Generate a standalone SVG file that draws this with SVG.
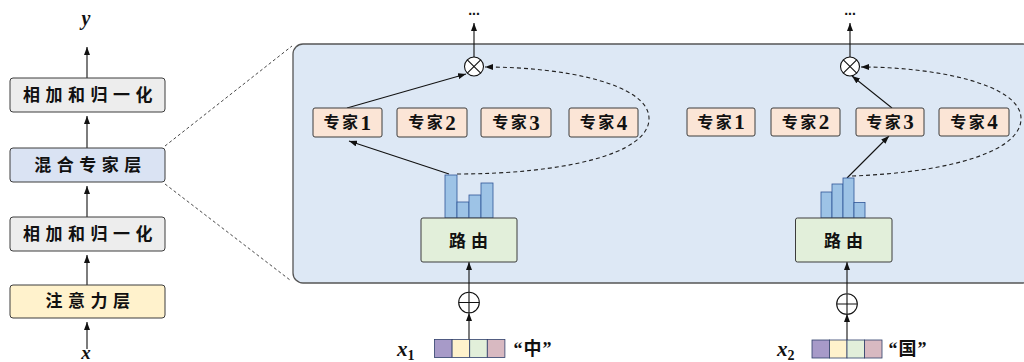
<svg xmlns="http://www.w3.org/2000/svg" width="1024" height="362" viewBox="0 0 1024 362">
<defs>
<marker id="ah" viewBox="0 0 8 6" refX="8" refY="3" markerWidth="8" markerHeight="6" markerUnits="userSpaceOnUse" orient="auto">
<path d="M0,0 L8,3 L0,6 z" fill="#111"/>
</marker>
<style>
.cn{font-family:"Liberation Serif","Noto Sans CJK SC",serif;font-weight:bold;fill:#111;text-anchor:middle;dominant-baseline:central}
.lc{font-size:17px;letter-spacing:5.5px}
.ex{font-size:16px;letter-spacing:2.5px}
.dg{font-size:21px}
.box{stroke:#3c3c3c;stroke-width:1}
.gray{fill:#ededed}
.moe{fill:#dae3f3}
.att{fill:#fff2cc}
.exp{fill:#fbe5d6}
.rt{fill:#e2efda}
.bar{fill:#9dc3e6;stroke:#2f5597;stroke-width:0.8}
.ln{stroke:#111;stroke-width:1.1;fill:none}
.dl{stroke:#222;stroke-width:1.1;fill:none;stroke-dasharray:4 3}
.zm{stroke:#333;stroke-width:0.9;fill:none;stroke-dasharray:3 2.5}
.op{fill:#fff;stroke:#111;stroke-width:1.1}
.mi{font-family:"Liberation Serif","DejaVu Serif",serif;font-weight:bold;font-style:italic;fill:#111}
.sub{font-family:"Liberation Serif","DejaVu Serif",serif;font-weight:bold;fill:#111}
.dots{font-family:"Liberation Sans",sans-serif;font-weight:bold;font-size:14px;fill:#111;text-anchor:middle}
</style>
</defs>
<rect width="1024" height="362" fill="#fff"/>

<g id="panel">
<rect x="293" y="44" width="740" height="239" rx="10" fill="#dde8f5" stroke="#555" stroke-width="1.3"/>
</g>

<g id="connectors">
<line class="ln" x1="87" y1="78" x2="87" y2="47" marker-end="url(#ah)"/>
<line class="ln" x1="87" y1="148" x2="87" y2="116" marker-end="url(#ah)"/>
<line class="ln" x1="87" y1="217" x2="87" y2="186" marker-end="url(#ah)"/>
<line class="ln" x1="87" y1="285" x2="87" y2="255" marker-end="url(#ah)"/>
<line class="ln" x1="87" y1="349" x2="87" y2="322" marker-end="url(#ah)"/>
<line class="zm" x1="165" y1="146" x2="292" y2="46"/>
<line class="zm" x1="165" y1="184" x2="290" y2="280"/>
<line class="ln" x1="474" y1="57" x2="474" y2="23" marker-end="url(#ah)"/>
<line class="ln" x1="347" y1="108" x2="466" y2="74" marker-end="url(#ah)"/>
<line class="ln" x1="449" y1="174" x2="349" y2="141" marker-end="url(#ah)"/>
<path class="dl" d="M457 174 C560 174 650 155 649 118 C648 84 565 67 485 67" marker-end="url(#ah)"/>
<line class="ln" x1="469" y1="292" x2="469" y2="262" marker-end="url(#ah)"/>
<line class="ln" x1="469" y1="340" x2="469" y2="313" marker-end="url(#ah)"/>
<line class="ln" x1="850" y1="57" x2="850" y2="23" marker-end="url(#ah)"/>
<line class="ln" x1="892" y1="108" x2="852" y2="76" marker-end="url(#ah)"/>
<line class="ln" x1="847" y1="178" x2="889" y2="136" marker-end="url(#ah)"/>
<path class="dl" d="M852 176 C955 172 1022 150 1021 118 C1020 84 935 67 861 67" marker-end="url(#ah)"/>
<line class="ln" x1="847" y1="293" x2="847" y2="262" marker-end="url(#ah)"/>
<line class="ln" x1="847" y1="340" x2="847" y2="314" marker-end="url(#ah)"/>
</g>

<g id="label-y"><text class="mi" x="86" y="25" font-size="20" text-anchor="middle">y</text></g>
<g id="label-x"><text class="mi" x="86" y="359" font-size="19" text-anchor="middle">x</text></g>

<g id="add-norm-2">
<rect class="box gray" x="10" y="78" width="155" height="34" rx="3"/>
<text class="cn lc" x="90.5" y="95">相加和归一化</text>
</g>
<g id="moe-layer">
<rect class="box moe" x="10" y="148" width="155" height="34" rx="3"/>
<text class="cn lc" x="90.5" y="165">混合专家层</text>
</g>
<g id="add-norm-1">
<rect class="box gray" x="10" y="217" width="155" height="34" rx="3"/>
<text class="cn lc" x="90.5" y="234">相加和归一化</text>
</g>
<g id="attention">
<rect class="box att" x="10" y="285" width="155" height="33" rx="3"/>
<text class="cn lc" x="90.5" y="301.5">注意力层</text>
</g>

<g id="dots-1"><text class="dots" x="474" y="15">...</text></g>
<g id="mul-1">
<circle class="op" cx="474" cy="66.5" r="9.5"/>
<path class="ln" d="M467.3 59.8 L480.7 73.2 M480.7 59.8 L467.3 73.2"/>
</g>
<g id="expert-1-1"><rect class="box exp" x="313" y="108" width="69" height="29" rx="2"/><text class="cn ex" x="348.5" y="122.5">专家<tspan class="dg">1</tspan></text></g>
<g id="expert-1-2"><rect class="box exp" x="397" y="108" width="70" height="29" rx="2"/><text class="cn ex" x="433.2" y="122.5">专家<tspan class="dg">2</tspan></text></g>
<g id="expert-1-3"><rect class="box exp" x="481" y="108" width="70" height="29" rx="2"/><text class="cn ex" x="517.2" y="122.5">专家<tspan class="dg">3</tspan></text></g>
<g id="expert-1-4"><rect class="box exp" x="569" y="108" width="69" height="29" rx="2"/><text class="cn ex" x="604.7" y="122.5">专家<tspan class="dg">4</tspan></text></g>
<g id="gate-1">
<rect class="bar" x="445" y="175" width="12" height="43"/>
<rect class="bar" x="457" y="202" width="12" height="16"/>
<rect class="bar" x="469" y="195" width="12" height="23"/>
<rect class="bar" x="481" y="183" width="12" height="35"/>
</g>
<g id="router-1">
<rect class="box rt" x="421" y="218" width="96" height="44" rx="2"/>
<text class="cn" x="471" y="241" font-size="17" letter-spacing="5">路由</text>
</g>
<g id="add-1">
<circle class="op" cx="469" cy="302.5" r="10.3"/>
<path class="ln" d="M458.7 302.5 H479.3 M469 292.2 V312.8"/>
</g>
<g id="token-1">
<rect x="434.5" y="339.5" width="17.6" height="18" fill="#a79ac8" stroke="#2f3f6a" stroke-width="0.8"/>
<rect x="452.1" y="339.5" width="17.6" height="18" fill="#fff2cc" stroke="#2f3f6a" stroke-width="0.8"/>
<rect x="469.7" y="339.5" width="17.6" height="18" fill="#e2efda" stroke="#2f3f6a" stroke-width="0.8"/>
<rect x="487.3" y="339.5" width="17.6" height="18" fill="#d8b9c1" stroke="#2f3f6a" stroke-width="0.8"/>
<text class="mi" x="397" y="356" font-size="21">x<tspan class="sub" font-style="normal" font-size="14" dy="4">1</tspan></text>
<text class="cn" x="533" y="349" font-size="18" letter-spacing="1">“中”</text>
</g>

<g id="dots-2"><text class="dots" x="850" y="15">...</text></g>
<g id="mul-2">
<circle class="op" cx="850" cy="66.5" r="9.5"/>
<path class="ln" d="M843.3 59.8 L856.7 73.2 M856.7 59.8 L843.3 73.2"/>
</g>
<g id="expert-2-1"><rect class="box exp" x="687" y="108" width="68" height="28" rx="2"/><text class="cn ex" x="722.2" y="122">专家<tspan class="dg">1</tspan></text></g>
<g id="expert-2-2"><rect class="box exp" x="771" y="108" width="69" height="28" rx="2"/><text class="cn ex" x="806.7" y="122">专家<tspan class="dg">2</tspan></text></g>
<g id="expert-2-3"><rect class="box exp" x="856" y="108" width="68" height="28" rx="2"/><text class="cn ex" x="891.2" y="122">专家<tspan class="dg">3</tspan></text></g>
<g id="expert-2-4"><rect class="box exp" x="939" y="108" width="70" height="28" rx="2"/><text class="cn ex" x="975.2" y="122">专家<tspan class="dg">4</tspan></text></g>
<g id="gate-2">
<rect class="bar" x="821" y="192" width="11" height="26"/>
<rect class="bar" x="832" y="184" width="11" height="34"/>
<rect class="bar" x="843" y="178" width="11" height="40"/>
<rect class="bar" x="854" y="202.5" width="11" height="15.5"/>
</g>
<g id="router-2">
<rect class="box rt" x="795.5" y="218" width="96.5" height="44" rx="2"/>
<text class="cn" x="846" y="241" font-size="17" letter-spacing="5">路由</text>
</g>
<g id="add-2">
<circle class="op" cx="847" cy="304" r="10.3"/>
<path class="ln" d="M836.7 304 H857.3 M847 293.7 V314.3"/>
</g>
<g id="token-2">
<rect x="812" y="340" width="17.5" height="18" fill="#a79ac8" stroke="#2f3f6a" stroke-width="0.8"/>
<rect x="829.5" y="340" width="17.5" height="18" fill="#fff2cc" stroke="#2f3f6a" stroke-width="0.8"/>
<rect x="847" y="340" width="17.5" height="18" fill="#e2efda" stroke="#2f3f6a" stroke-width="0.8"/>
<rect x="864.5" y="340" width="17.5" height="18" fill="#d8b9c1" stroke="#2f3f6a" stroke-width="0.8"/>
<text class="mi" x="777" y="356" font-size="21">x<tspan class="sub" font-style="normal" font-size="14" dy="4">2</tspan></text>
<text class="cn" x="908" y="349" font-size="18" letter-spacing="1">“国”</text>
</g>
</svg>
